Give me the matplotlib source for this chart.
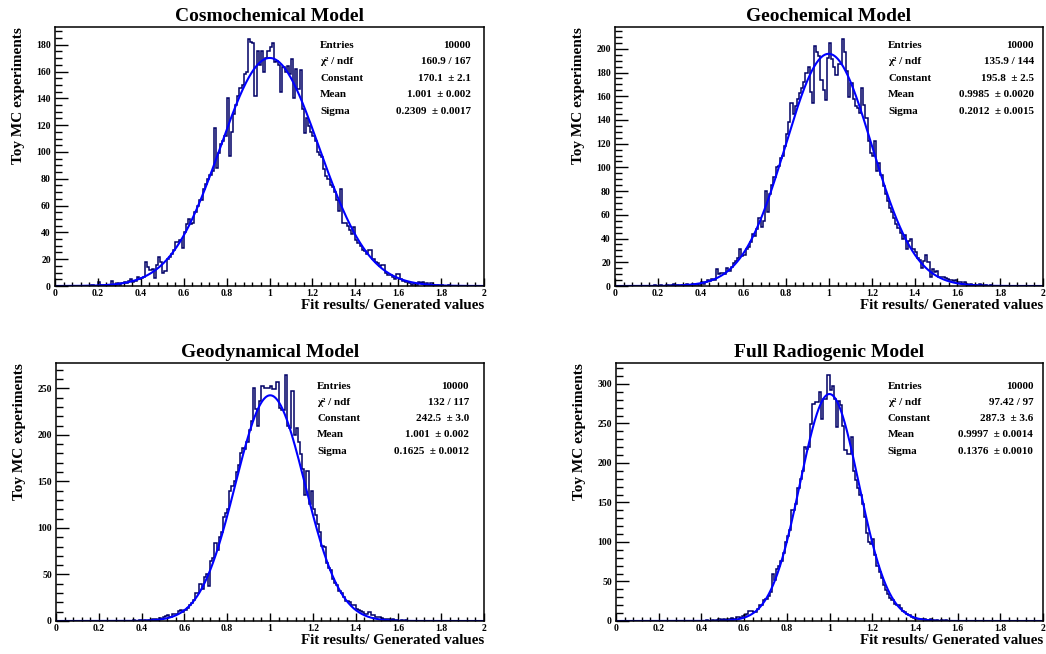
import numpy as np
import matplotlib
matplotlib.use("Agg")
import matplotlib.pyplot as plt
from matplotlib.ticker import MultipleLocator, FuncFormatter

plt.rcParams['font.family'] = ['Liberation Serif', 'DejaVu Serif']
plt.rcParams['font.weight'] = 'bold'

# 200 bins de 0.01 entre 0 y 2; cada lista empieza en el bin indicado
titles = ["Cosmochemical Model", "Geochemical Model",
          "Geodynamical Model", "Full Radiogenic Model"]

cosmo_start = 10
cosmo_counts = [
    0, 0, 0, 0, 0, 0, 0, 1, 0, 0,
    3, 1, 0, 1, 0, 1, 4, 1, 1, 2,
    1, 2, 3, 2, 4, 5, 3, 4, 7, 5,
    6, 7, 18, 14, 12, 13, 6, 16, 22, 18,
    10, 11, 20, 22, 24, 27, 33, 33, 34, 28,
    40, 46, 50, 46, 47, 55, 60, 64, 64, 72,
    76, 80, 83, 86, 118, 88, 99, 106, 108, 112,
    140, 97, 115, 128, 135, 142, 148, 150, 158, 160,
    184, 182, 181, 142, 175, 165, 175, 160, 170, 175,
    178, 181, 167, 168, 165, 145, 163, 160, 164, 158,
    169, 140, 162, 147, 161, 132, 114, 125, 119, 115,
    112, 108, 100, 98, 96, 87, 82, 80, 75, 74,
    70, 64, 56, 72, 47, 47, 45, 42, 39, 44,
    34, 32, 30, 27, 26, 24, 27, 27, 20, 18,
    17, 15, 16, 16, 10, 8, 8, 7, 5, 9,
    9, 5, 4, 3, 3, 2, 1, 2, 1, 3,
    2, 3, 1, 2, 1, 2, 1, 0, 1, 0,
    1, 0, 0, 1, 0, 0, 0, 0, 0, 0,
]

geochem_start = 10
geochem_counts = [
    0, 0, 0, 0, 0, 0, 0, 0, 1, 0,
    0, 1, 0, 0, 1, 0, 1, 2, 1, 1,
    0, 1, 1, 2, 1, 1, 2, 1, 2, 1,
    3, 2, 3, 5, 4, 6, 5, 14, 10, 11,
    11, 10, 15, 13, 16, 19, 21, 24, 31, 25,
    26, 31, 33, 37, 44, 42, 48, 57, 50, 55,
    80, 62, 78, 85, 92, 100, 101, 108, 110, 118,
    128, 138, 154, 145, 152, 158, 163, 167, 172, 180,
    185, 164, 154, 202, 197, 194, 174, 165, 157, 192,
    205, 191, 185, 178, 187, 187, 208, 197, 181, 159,
    171, 158, 152, 150, 146, 167, 153, 142, 122, 112,
    110, 122, 97, 104, 94, 84, 78, 72, 66, 62,
    57, 52, 49, 45, 40, 43, 31, 38, 40, 31,
    29, 24, 22, 15, 21, 26, 20, 8, 14, 12,
    13, 8, 8, 8, 7, 6, 5, 5, 4, 5,
    3, 3, 2, 3, 2, 1, 2, 1, 1, 0,
    2, 1, 0, 1, 0, 1, 0, 0, 0, 0,
]

geodyn_start = 30
geodyn_counts = [
    0, 0, 0, 0, 0, 0, 1, 0, 0, 1,
    0, 1, 0, 1, 1, 2, 2, 1, 3, 2,
    4, 5, 6, 4, 7, 8, 7, 11, 12, 10,
    12, 14, 17, 19, 23, 30, 30, 40, 34, 47,
    50, 38, 64, 68, 84, 76, 90, 96, 112, 116,
    120, 140, 145, 150, 160, 168, 180, 186, 185, 192,
    205, 215, 250, 228, 209, 236, 252, 250, 250, 250,
    253, 249, 249, 257, 229, 227, 227, 264, 210, 207,
    247, 200, 207, 192, 179, 163, 135, 161, 126, 140,
    120, 114, 104, 96, 81, 80, 62, 57, 55, 45,
    41, 39, 32, 30, 26, 22, 22, 20, 17, 17,
    13, 12, 11, 10, 8, 8, 10, 6, 6, 4,
    4, 4, 3, 2, 2, 2, 1, 2, 1, 1,
    0, 1, 0, 1, 0, 0, 0, 0, 0, 0,
]

radio_start = 40
radio_counts = [
    0, 0, 1, 0, 0, 1, 0, 1, 2, 1,
    2, 1, 2, 3, 4, 3, 5, 5, 4, 6,
    8, 9, 13, 13, 12, 12, 15, 20, 20, 26,
    28, 32, 37, 60, 52, 66, 70, 76, 86, 100,
    108, 115, 140, 140, 148, 168, 180, 190, 220, 218,
    220, 249, 275, 277, 277, 290, 256, 281, 281, 311,
    292, 298, 281, 245, 279, 273, 247, 216, 212, 212,
    233, 190, 178, 168, 160, 148, 132, 112, 100, 98,
    104, 83, 70, 62, 54, 45, 39, 34, 29, 26,
    22, 20, 20, 16, 13, 11, 9, 8, 5, 4,
    3, 3, 2, 2, 2, 1, 1, 2, 1, 0,
    1, 0, 1, 0, 1, 0, 0, 0, 0, 0,
]

# parametros del ajuste gaussiano (caja de estadisticas)
chi2_ndf = ["160.9 / 167", "135.9 / 144", "132 / 117", "97.42 / 97"]
constants = [170.1, 195.8, 242.5, 287.3]
constant_err = ["2.1", "2.5", "3.0", "3.6"]
mean_txt = ["1.001", "0.9985", "1.001", "0.9997"]
means = [1.001, 0.9985, 1.001, 0.9997]
mean_err = ["0.002", "0.0020", "0.002", "0.0014"]
sigmas = [0.2309, 0.2012, 0.1625, 0.1376]
sigma_err = ["0.0017", "0.0015", "0.0012", "0.0010"]
entries = 10000

starts = [cosmo_start, geochem_start, geodyn_start, radio_start]
counts = [cosmo_counts, geochem_counts, geodyn_counts, radio_counts]
y_major = [20, 20, 50, 50]
y_minor = [5, 5, 10, 10]

W, H = 1046, 654
fig = plt.figure(figsize=(W / 100, H / 100), dpi=100)

# posiciones en pixeles (izq, der, arriba, abajo)
boxes = [(55, 484, 27, 286), (615, 1043, 27, 286),
         (56, 484, 363, 621), (616, 1043, 363, 621)]
stat_x = [(0.618, 0.970), (0.638, 0.979), (0.610, 0.965), (0.636, 0.977)]

edges = np.linspace(0, 2, 201)
xfit = np.linspace(0, 2, 800)

for i in range(4):
    x0, x1, yt, yb = boxes[i]
    ax = fig.add_axes([x0 / W, (H - yb) / H, (x1 - x0) / W, (yb - yt) / H])

    h = np.zeros(200)
    h[starts[i]:starts[i] + len(counts[i])] = counts[i]

    ax.stairs(h, edges, color='#000066', linewidth=1.1, baseline=0)
    yfit = constants[i] * np.exp(-0.5 * ((xfit - means[i]) / sigmas[i]) ** 2)
    ax.plot(xfit, yfit, color='#0000ff', linewidth=1.5)

    ax.set_xlim(0, 2)
    ax.set_ylim(0, 1.05 * h.max())

    ax.xaxis.set_major_locator(MultipleLocator(0.2))
    ax.xaxis.set_minor_locator(MultipleLocator(0.04))
    ax.xaxis.set_major_formatter(FuncFormatter(lambda v, p: '%g' % round(v, 2)))
    ax.yaxis.set_major_locator(MultipleLocator(y_major[i]))
    ax.yaxis.set_minor_locator(MultipleLocator(y_minor[i]))

    ax.tick_params(axis='both', which='both', direction='in', top=False, right=False,
                   labelsize=7, width=1.0)
    ax.tick_params(axis='x', which='major', length=5.5, pad=2)
    ax.tick_params(axis='x', which='minor', length=2.8)
    ax.tick_params(axis='y', which='major', length=9.4, pad=3)
    ax.tick_params(axis='y', which='minor', length=4.7)
    for lab in ax.get_xticklabels() + ax.get_yticklabels():
        lab.set_fontweight('bold')
    for s in ax.spines.values():
        s.set_linewidth(1.1)

    ax.set_title(titles[i], fontsize=14, fontweight='bold', pad=4)
    ax.set_xlabel("Fit results/ Generated values", fontsize=10.8, fontweight='bold', loc='right')
    ax.xaxis.set_label_coords(1.0, -0.05)
    ax.set_ylabel("Toy MC experiments", fontsize=11, fontweight='bold', loc='top')
    ax.yaxis.set_label_coords(-0.07, 1.0)

    # caja de estadisticas
    lx, rx = stat_x[i]
    names = ["Entries", "χ² / ndf", "Constant", "Mean", "Sigma"]
    vals = [str(entries), chi2_ndf[i],
            "%.1f  ± %s" % (constants[i], constant_err[i]),
            "%s  ± %s" % (mean_txt[i], mean_err[i]),
            "%.4f  ± %s" % (sigmas[i], sigma_err[i])]
    rows = [0.93, 0.866, 0.803, 0.738, 0.675] if i < 2 else [0.907, 0.845, 0.783, 0.721, 0.657]
    for n, v, yy in zip(names, vals, rows):
        ax.text(lx, yy, n, transform=ax.transAxes, ha='left', va='center',
                fontsize=8, fontweight='bold')
        ax.text(rx, yy, v, transform=ax.transAxes, ha='right', va='center',
                fontsize=8, fontweight='bold')

fig.savefig("out.png", dpi=100)
